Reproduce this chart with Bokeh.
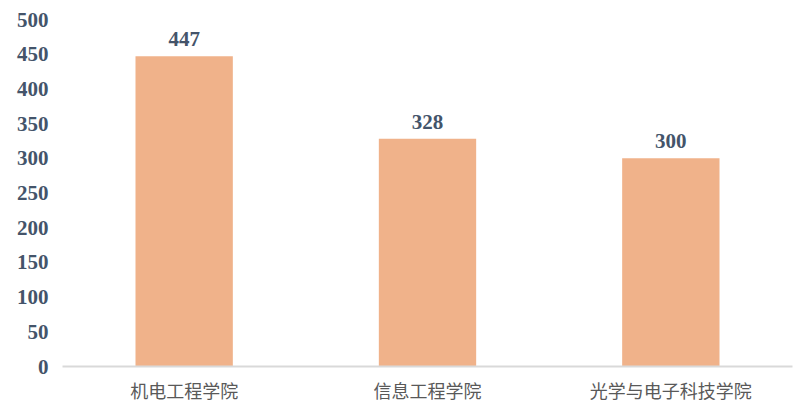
from bokeh.plotting import figure
from bokeh.models import ColumnDataSource, Range1d, FixedTicker
from bokeh.embed import file_html
from bokeh.resources import INLINE
from bokeh.core.properties import value

categories = ["机电工程学院", "信息工程学院", "光学与电子科技学院"]
counts = [447, 328, 300]
y_ticks = [0, 50, 100, 150, 200, 250, 300, 350, 400, 450, 500]

src = ColumnDataSource(dict(cat=categories, val=counts, lab=[str(v) for v in counts]))

p = figure(x_range=categories, y_range=Range1d(0, 500), width=803, height=405,
           output_backend="svg", toolbar_location=None,
           min_border_left=62, min_border_right=11, min_border_top=19, min_border_bottom=39)
p.outline_line_color = None
p.grid.grid_line_color = None
p.background_fill_color = "white"

p.vbar(x="cat", top="val", width=0.4, source=src, fill_color="#F0B28A", line_color=None)
p.text(x="cat", y="val", text="lab", source=src, text_align="center", text_baseline="bottom",
       y_offset=-10, text_font=value("Liberation Serif"), text_font_style="bold",
       text_font_size="21px", text_color="#44546A")

p.yaxis.ticker = FixedTicker(ticks=y_ticks)
p.yaxis.axis_line_color = None
p.yaxis.major_tick_line_color = None
p.yaxis.minor_tick_line_color = None
p.yaxis.major_tick_out = 0
p.yaxis.major_tick_in = 0
p.yaxis.major_label_standoff = 14
p.yaxis.major_label_text_font = "Liberation Serif"
p.yaxis.major_label_text_font_style = "bold"
p.yaxis.major_label_text_font_size = "21px"
p.yaxis.major_label_text_color = "#44546A"

p.xaxis.axis_line_color = "#D9D9D9"
p.xaxis.axis_line_width = 2
p.xaxis.major_tick_line_color = None
p.xaxis.minor_tick_line_color = None
p.xaxis.major_tick_out = 0
p.xaxis.major_tick_in = 0
p.xaxis.major_label_standoff = 10
p.xaxis.major_label_text_font = "Noto Sans CJK SC"
p.xaxis.major_label_text_font_size = "18px"
p.xaxis.major_label_text_color = "#595959"

open("out.html", "w").write(file_html(p, INLINE))
